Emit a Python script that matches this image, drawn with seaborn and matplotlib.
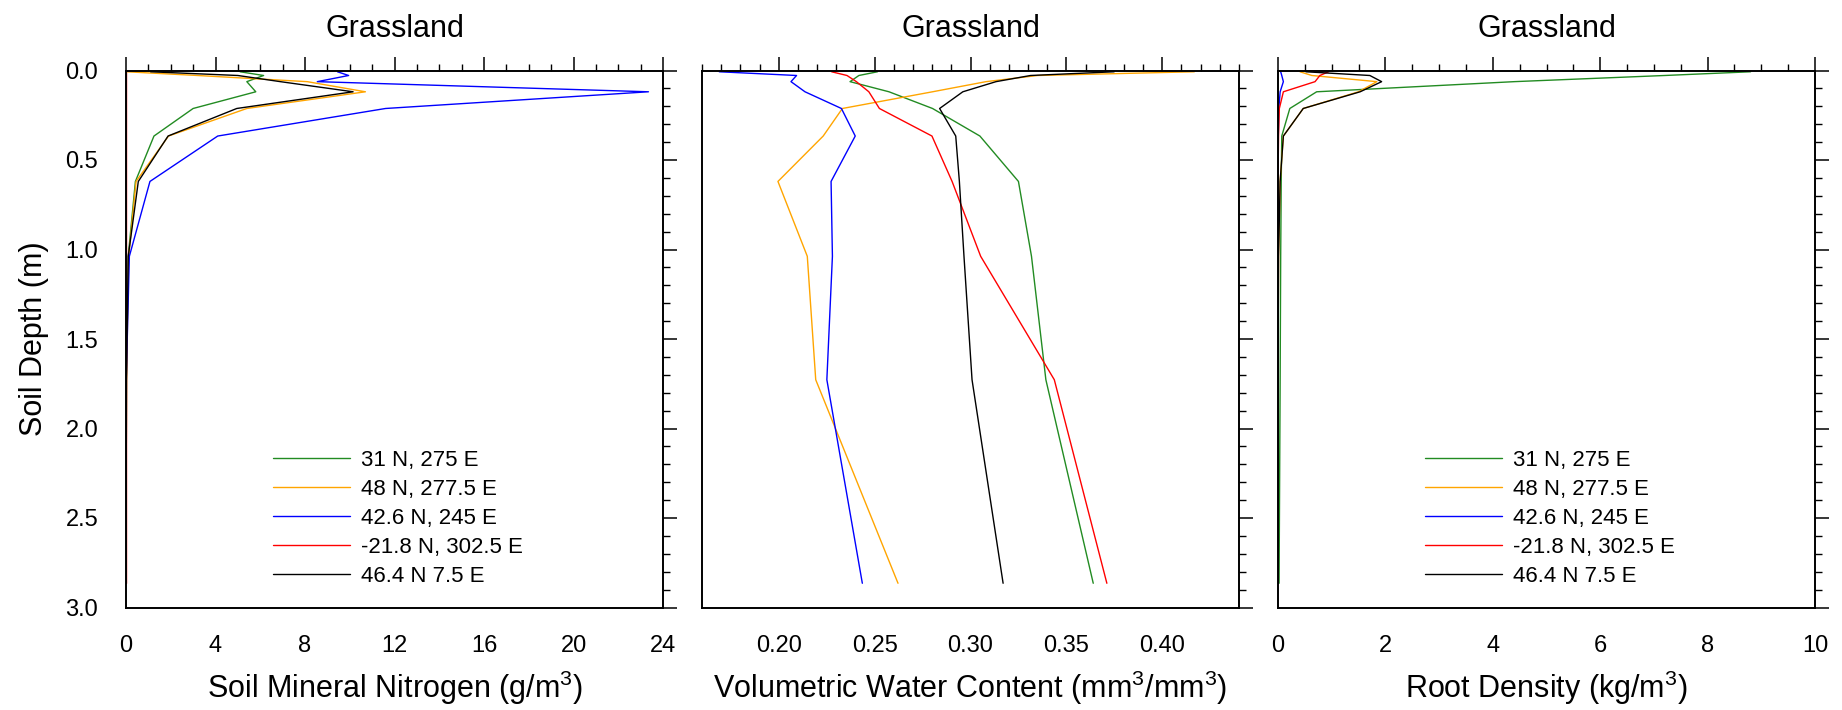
import numpy as np
import pandas as pd
import matplotlib
matplotlib.use("Agg")
import matplotlib.pyplot as plt
from matplotlib.ticker import MultipleLocator
import seaborn as sns

# ---------------- data ----------------
depths = [0.0071, 0.0279, 0.0623, 0.1189, 0.2122, 0.3661, 0.6198, 1.0380, 1.7276, 2.8646]

sites = ["31 N, 275 E", "48 N, 277.5 E", "42.6 N, 245 E", "-21.8 N, 302.5 E", "46.4 N 7.5 E"]
site_colors = ["#228B22", "#FFA500", "#0000FF", "#FF0000", "#000000"]

# Soil mineral nitrogen (g/m3)
smn_green = [5.1, 6.15, 5.4, 5.8, 3.0, 1.25, 0.42, 0.1, 0.02, 0.0]
smn_orange = [0.03, 3.2, 8.1, 10.7, 5.4, 1.9, 0.45, 0.12, 0.02, 0.0]
smn_blue = [9.45, 9.95, 8.55, 23.35, 11.6, 4.1, 1.07, 0.15, 0.01, 0.0]
smn_red = [0.0, 0.0, 0.0, 0.0, 0.0, 0.0, 0.0, 0.0, 0.0, 0.0]
smn_black = [1.1, 5.0, 6.9, 10.15, 4.95, 1.88, 0.55, 0.1, 0.02, 0.0]

# Volumetric water content (mm3/mm3)
vwc_green = [0.2515, 0.2418, 0.2372, 0.2575, 0.2802, 0.3049, 0.3250, 0.3318, 0.3393, 0.3640]
vwc_orange = [0.4167, 0.3350, 0.3081, 0.2802, 0.2332, 0.2232, 0.1996, 0.2149, 0.2193, 0.2622]
vwc_blue = [0.1690, 0.2093, 0.2064, 0.2137, 0.2327, 0.2399, 0.2273, 0.2280, 0.2251, 0.2436]
vwc_red = [0.2276, 0.2356, 0.2405, 0.2470, 0.2525, 0.2799, 0.2904, 0.3053, 0.3437, 0.3711]
vwc_black = [0.3749, 0.3313, 0.3133, 0.2960, 0.2839, 0.2923, 0.2942, 0.2966, 0.3008, 0.3170]

# Root density (kg/m3)
root_green = [8.8, 7.2, 4.4, 0.72, 0.22, 0.07, 0.06, 0.05, 0.04, 0.02]
root_orange = [0.41, 0.63, 1.84, 1.5, 0.47, 0.1, 0.04, 0.01, 0.0, 0.0]
root_blue = [0.05, 0.07, 0.1, 0.04, 0.015, 0.005, 0.0, 0.0, 0.0, 0.0]
root_red = [0.94, 0.78, 0.69, 0.1, 0.025, 0.01, 0.0, 0.0, 0.0, 0.0]
root_black = [0.52, 1.71, 1.93, 1.53, 0.47, 0.1, 0.04, 0.01, 0.0, 0.0]

panel_titles = ["Grassland", "Grassland", "Grassland"]
x_labels = ["Soil Mineral Nitrogen (g/m$^3$)",
            "Volumetric Water Content (mm$^3$/mm$^3$)",
            "Root Density (kg/m$^3$)"]
y_label = "Soil Depth (m)"
y_ticks = [0.0, 0.5, 1.0, 1.5, 2.0, 2.5, 3.0]
y_ticklabels = ["0.0", "0.5", "1.0", "1.5", "2.0", "2.5", "3.0"]

# ---------------- style ----------------
sns.set_style("white")
plt.rcParams["font.family"] = ["Liberation Sans", "DejaVu Sans"]
plt.rcParams["mathtext.fontset"] = "custom"
plt.rcParams["mathtext.rm"] = "Liberation Sans"
plt.rcParams["mathtext.it"] = "Liberation Sans"
plt.rcParams["mathtext.default"] = "regular"
plt.rcParams["text.color"] = "black"
plt.rcParams["axes.labelcolor"] = "black"
plt.rcParams["xtick.color"] = "black"
plt.rcParams["ytick.color"] = "black"


def long_frame(series):
    rows = []
    for site, vals in zip(sites, series):
        for d, v in zip(depths, vals):
            rows.append({"site": site, "depth": d, "value": v})
    return pd.DataFrame(rows)


panels = [
    dict(series=[smn_green, smn_orange, smn_blue, smn_red, smn_black],
         xlim=(0, 24), major=4, minor=1, fmt=lambda v: f"{v:g}", legend=True),
    dict(series=[vwc_green, vwc_orange, vwc_blue, vwc_red, vwc_black],
         xlim=(0.16, 0.44), major=0.05, minor=0.01, fmt=lambda v: f"{v:.2f}", legend=False),
    dict(series=[root_green, root_orange, root_blue, root_red, root_black],
         xlim=(0, 10), major=2, minor=0.5, fmt=lambda v: f"{v:g}", legend=True),
]

W, H = 1842, 710
fig = plt.figure(figsize=(W / 100, H / 100), dpi=100)
lefts = [126, 702, 1278]
aw, ah = 537, 537
top = 70.5

palette = dict(zip(sites, site_colors))

for i, p in enumerate(panels):
    ax = fig.add_axes([lefts[i] / W, (H - top - ah) / H, aw / W, ah / H])
    df = long_frame(p["series"])
    sns.lineplot(data=df, x="value", y="depth", hue="site", hue_order=sites,
                 palette=palette, estimator=None, sort=False, orient="y",
                 linewidth=1.0, legend=False, ax=ax)
    ax.set_xlim(*p["xlim"])
    ax.set_ylim(3.0, 0.0)
    ax.xaxis.set_major_locator(MultipleLocator(p["major"]))
    ax.xaxis.set_minor_locator(MultipleLocator(p["minor"]))
    ax.yaxis.set_minor_locator(MultipleLocator(0.1))
    ax.set_xticks([t for t in ax.get_xticks() if p["xlim"][0] - 1e-9 <= t <= p["xlim"][1] + 1e-9])
    ax.set_xticklabels([p["fmt"](t) for t in ax.get_xticks()])
    ax.set_yticks(y_ticks)
    ax.set_yticklabels(y_ticklabels)
    ax.set_xlim(*p["xlim"])
    ax.set_ylim(3.0, 0.0)
    ax.tick_params(which="both", direction="out", top=True, right=True,
                   labeltop=False, labelright=False, colors="black")
    ax.tick_params(which="major", length=10, width=1.1, labelsize=17, pad=10)
    ax.tick_params(which="minor", length=5, width=1.0)
    if i > 0:
        ax.tick_params(labelleft=False)
        ax.set_ylabel("")
    else:
        ax.set_ylabel(y_label, fontsize=22, labelpad=12)
    for s in ax.spines.values():
        s.set_visible(True)
        s.set_linewidth(1.4)
        s.set_color("black")
        s.set_zorder(5)
    ax.set_xlabel(x_labels[i], fontsize=22, labelpad=8)
    ax.set_title(panel_titles[i], fontsize=22, pad=24)
    if p["legend"]:
        handles = ax.get_lines()[:5]
        ax.legend(handles, sites, loc="upper left", bbox_to_anchor=(0.273, 0.2935),
                  frameon=False, fontsize=16, handlelength=3.5, handletextpad=0.5,
                  labelspacing=0.36, borderpad=0, borderaxespad=0)

fig.savefig("out.png", dpi=100)
